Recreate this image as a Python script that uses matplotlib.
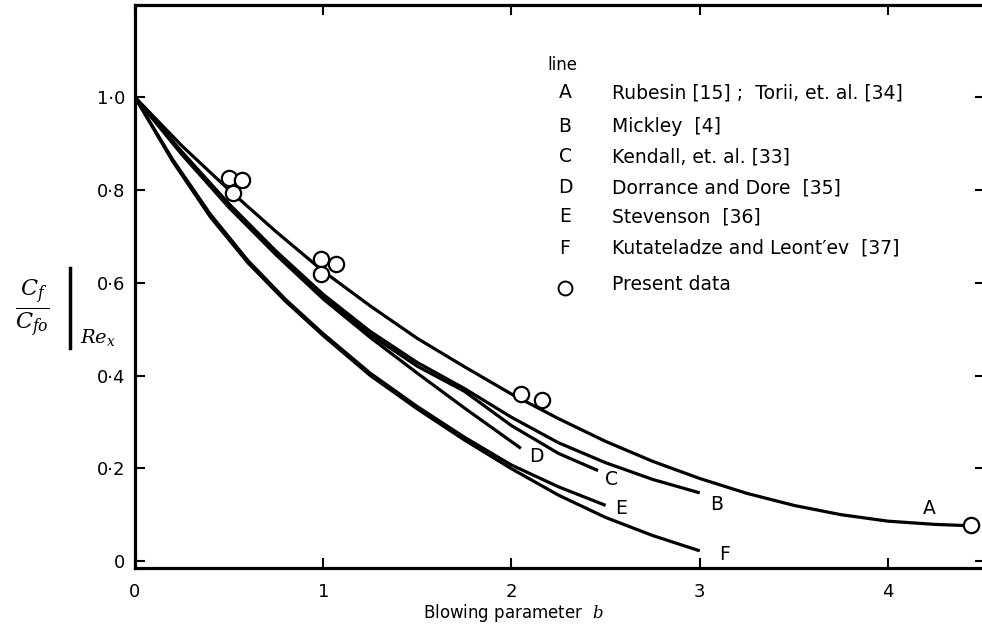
import numpy as np
import matplotlib.pyplot as plt
from matplotlib.lines import Line2D

# ---------- data -------------------------------------------------
b_A = [0, 0.25, 0.5, 0.75, 1.0, 1.25, 1.5, 1.75, 2.0, 2.25, 2.5, 2.75, 3.0, 3.25, 3.5, 3.75, 4.0, 4.25, 4.45]
cf_A = [1.0, 0.895, 0.80, 0.71, 0.625, 0.55, 0.48, 0.419, 0.36, 0.307, 0.258, 0.215, 0.178, 0.146, 0.12, 0.10,
        0.086, 0.079, 0.076]

b_B = [0, 0.25, 0.5, 0.75, 1.0, 1.25, 1.5, 1.75, 2.0, 2.25, 2.5, 2.75, 3.0]
cf_B = [1.0, 0.882, 0.77, 0.668, 0.575, 0.495, 0.428, 0.372, 0.31, 0.255, 0.212, 0.176, 0.147]

b_C = [0, 0.25, 0.5, 0.75, 1.0, 1.25, 1.5, 1.75, 2.0, 2.25, 2.46]
cf_C = [1.0, 0.880, 0.766, 0.664, 0.570, 0.488, 0.42, 0.366, 0.292, 0.232, 0.195]

b_D = [0, 0.25, 0.5, 0.75, 1.0, 1.25, 1.5, 1.75, 2.05]
cf_D = [1.0, 0.876, 0.762, 0.66, 0.565, 0.482, 0.405, 0.33, 0.243]

b_E = [0, 0.2, 0.4, 0.6, 0.8, 1.0, 1.25, 1.5, 1.75, 2.0, 2.25, 2.5]
cf_E = [1.0, 0.866, 0.748, 0.648, 0.564, 0.49, 0.405, 0.333, 0.267, 0.207, 0.16, 0.12]

b_F = [0, 0.2, 0.4, 0.6, 0.8, 1.0, 1.25, 1.5, 1.75, 2.0, 2.25, 2.5, 2.75, 3.0]
cf_F = [1.0, 0.862, 0.742, 0.643, 0.56, 0.486, 0.4, 0.328, 0.261, 0.199, 0.142, 0.094, 0.055, 0.022]

b_data = [0.50, 0.57, 0.52, 0.99, 1.07, 0.99, 2.05, 2.16, 4.44]
cf_data = [0.825, 0.822, 0.794, 0.651, 0.640, 0.618, 0.361, 0.347, 0.078]

line_ids = ["A", "B", "C", "D", "E", "F"]
line_refs = ["Rubesin [15] ;  Torii, et. al. [34]",
             "Mickley  [4]",
             "Kendall, et. al. [33]",
             "Dorrance and Dore  [35]",
             "Stevenson  [36]",
             "Kutateladze and Leont\u2032ev  [37]"]

x_ticks = [0, 1, 2, 3, 4]
y_ticks = [0, 0.2, 0.4, 0.6, 0.8, 1.0]
y_ticklabels = ["0", "0\u00b72", "0\u00b74", "0\u00b76", "0\u00b78", "1\u00b70"]

# ---------- figure -----------------------------
W, H = 982, 641
fig = plt.figure(figsize=(W / 100, H / 100), dpi=100)
plt.rcParams['mathtext.fontset'] = 'dejavuserif'


def fx(px):
    return px / W


def fy(py):
    return 1 - py / H


ax = fig.add_axes([fx(135), fy(568), (985 - 135) / W, (568 - 5) / H])
ax.set_xlim(0, 850 / 188.25)
ax.set_ylim(-0.015, -0.015 + 563 / 463.75)

lw = 2.3
for b, cf in [(b_A, cf_A), (b_B, cf_B), (b_C, cf_C), (b_D, cf_D), (b_E, cf_E), (b_F, cf_F)]:
    ax.plot(b, cf, color="black", lw=lw, solid_capstyle="butt", zorder=2)

ax.plot(b_data, cf_data, "o", ms=11, mfc="white", mec="black", mew=1.6, zorder=3)

# curve letters
fs = 13.5
for s, (x, y) in zip(["A", "B", "C", "D", "E", "F"],
                     [(4.22, 0.113), (3.09, 0.121), (2.53, 0.175), (2.13, 0.226), (2.58, 0.114), (3.13, 0.015)]):
    ax.text(x, y, s, fontsize=fs, ha="center", va="center")

ax.set_xticks(x_ticks)
ax.set_xticklabels([str(t) for t in x_ticks], fontsize=13)
ax.set_yticks(y_ticks)
ax.set_yticklabels(y_ticklabels, fontsize=13)
ax.tick_params(direction="in", length=7, width=1.5, top=True, right=True)
ax.tick_params(axis="x", pad=11)
ax.tick_params(axis="y", pad=7)
for sp in ax.spines.values():
    sp.set_linewidth(lw)

fig.text(fx(513), fy(613), "Blowing parameter  $b$", fontsize=12, ha="center", va="center")

# legend block
fig.text(fx(547), fy(65), "line", fontsize=12, va="center", ha="left")
legend_y = [93, 127, 157, 188, 217, 248]
for lid, ref, py in zip(line_ids, line_refs, legend_y):
    fig.text(fx(565), fy(py), lid, fontsize=fs, va="center", ha="center")
    fig.text(fx(612), fy(py), ref, fontsize=fs, va="center", ha="left")
fig.add_artist(Line2D([fx(565)], [fy(288)], marker="o", ms=10, mfc="white", mec="black", mew=1.4))
fig.text(fx(612), fy(285), "Present data", fontsize=fs, va="center", ha="left")

# y label  Cf/Cfo | Re_x
fig.text(fx(32), fy(308), r"$\frac{C_f}{C_{fo}}$", fontsize=23, ha="center", va="center")
fig.add_artist(Line2D([fx(70), fx(70)], [fy(268), fy(348)], color="black", lw=2.5))
fig.text(fx(80), fy(338), r"$Re_x$", fontsize=14, ha="left", va="center")

fig.savefig("out.png", dpi=100)
